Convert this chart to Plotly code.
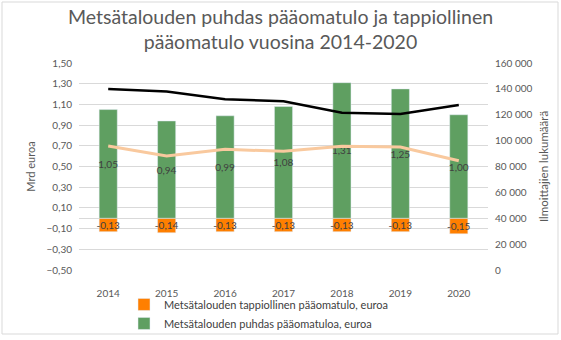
import plotly.graph_objects as go

years = ["2014", "2015", "2016", "2017", "2018", "2019", "2020"]
puhdas = [1.05, 0.94, 0.99, 1.08, 1.31, 1.25, 1.00]
tappio = [-0.13, -0.14, -0.13, -0.13, -0.13, -0.13, -0.15]
line_black = [140000, 138000, 132000, 130500, 121500, 120500, 127500]
line_peach = [95800, 88200, 93300, 91700, 95600, 95100, 84500]

FONT = "Lato"
GREY = "#595959"
TXT = "#404040"

fig = go.Figure()
fig.add_trace(go.Bar(
    x=years, y=tappio, name="Metsätalouden tappiollinen pääomatulo, euroa",
    marker_color="#FF7F00", width=0.31,
    text=tappio, texttemplate="%{y:.2f}", textposition="inside", textangle=0,
    insidetextanchor="middle", constraintext="none",
    textfont=dict(color=TXT, size=10, family=FONT),
))
fig.add_trace(go.Bar(
    x=years, y=puhdas, name="Metsätalouden puhdas pääomatuloa, euroa",
    marker_color="#5F9F61", width=0.31,
    text=puhdas, texttemplate="%{y:.2f}", textposition="inside", textangle=0,
    insidetextanchor="middle", constraintext="none",
    textfont=dict(color=TXT, size=10, family=FONT),
))
fig.add_trace(go.Scatter(
    x=years, y=line_black, yaxis="y2", mode="lines",
    line=dict(color="#000000", width=2.5), showlegend=False,
))
fig.add_trace(go.Scatter(
    x=years, y=line_peach, yaxis="y2", mode="lines",
    line=dict(color="#F9C99E", width=3), showlegend=False,
))

L, R, T, B = 79, 73, 63, 70
pw = 561 - L - R
ph = 340 - T - B

fig.update_layout(
    width=561, height=340,
    margin=dict(l=L, r=R, t=T, b=B),
    paper_bgcolor="white", plot_bgcolor="white",
    separators=", ",
    barmode="relative",
    font=dict(family=FONT, color=GREY, size=10),
    title=dict(
        text="Metsätalouden puhdas pääomatulo ja tappiollinen<br>pääomatulo vuosina 2014-2020",
        x=0.5, xanchor="center", y=0.93, yanchor="top",
        font=dict(family=FONT, size=19.5, color=GREY),
    ),
    xaxis=dict(showgrid=False, showline=False, ticks="", ticklabelstandoff=16,
               tickfont=dict(size=10, color=GREY), automargin=False),
    yaxis=dict(range=[-0.5, 1.5], tick0=-0.5, dtick=0.2, tickformat=".2f",
               showgrid=True, gridcolor="#D9D9D9", gridwidth=1,
               zeroline=True, zerolinecolor="#D9D9D9", zerolinewidth=1,
               title=dict(text="Mrd euroa", font=dict(size=11, color=GREY), standoff=8),
               tickfont=dict(size=10, color=GREY), ticklabelstandoff=6),
    yaxis2=dict(range=[0, 160000], dtick=20000, tickformat=",d", overlaying="y",
                side="right", showgrid=False, zeroline=False,
                title=dict(text="Ilmoittajien lukumäärä", font=dict(size=11.5, color=GREY), standoff=8),
                tickfont=dict(size=10, color=GREY), ticklabelstandoff=6),
    legend=dict(orientation="v", x=(124 - L) / pw, xref="paper", xanchor="left",
                y=0.006, yref="container", yanchor="bottom",
                font=dict(size=11, color=TXT), tracegroupgap=0,
                bgcolor="rgba(0,0,0,0)"),
    showlegend=True,
    shapes=[dict(type="rect", xref="paper", yref="paper",
                 x0=(2 - L) / pw, x1=(558 - L) / pw,
                 y0=-(334 - 270) / ph, y1=1 + (T - 2) / ph,
                 line=dict(color="#D9D9D9", width=1), layer="below")],
)

fig.write_html("out.html")
